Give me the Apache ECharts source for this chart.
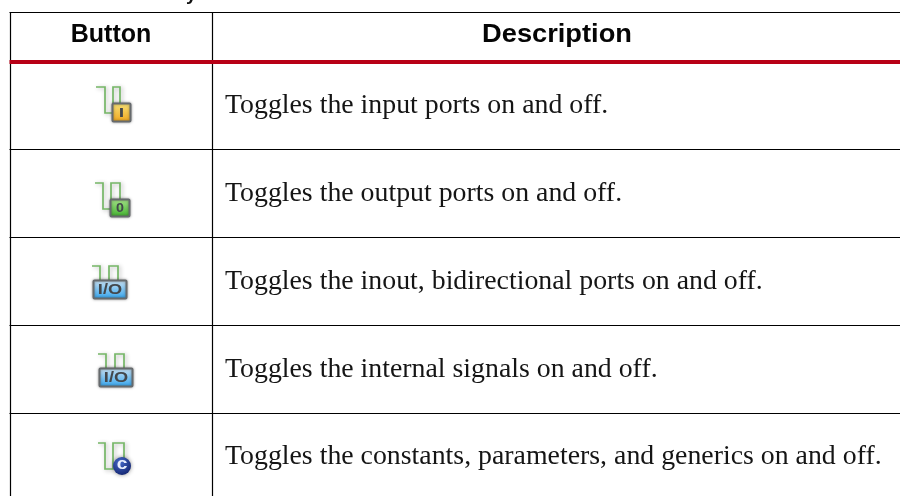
<!DOCTYPE html>
<html>
<head>
<meta charset="utf-8">
<style>
html, body { margin: 0; padding: 0; background: #fff; }
#table-chart { width: 900px; height: 496px; }
</style>
<script src="https://cdn.jsdelivr.net/npm/echarts@6/dist/echarts.min.js"></script>
</head>
<body>
<div id="table-chart"></div>
<script>
var HEADERS = ['Button', 'Description'];
var DESCRIPTIONS = [
    'Toggles the input ports on and off.',
    'Toggles the output ports on and off.',
    'Toggles the inout, bidirectional ports on and off.',
    'Toggles the internal signals on and off.',
    'Toggles the constants, parameters, and generics on and off.'
];
var ICON_LABELS = ['I', '0', 'I/O', 'I/O', 'c'];

var SANS = '"Liberation Sans", Arial, sans-serif';
var SERIF = '"Liberation Serif", "Times New Roman", serif';
var BASELINES = [106, 194, 282, 370, 457];
var ROW_LINES = [149.5, 237.5, 325.5, 413.5];

function line(x1, y1, x2, y2, color, width) {
    return {
        type: 'line',
        shape: {x1: x1, y1: y1, x2: x2, y2: y2},
        style: {stroke: color, lineWidth: width}
    };
}

function label(text, x, y, font, fill, scaleX, align) {
    return {
        type: 'text',
        x: x,
        y: y,
        scaleX: scaleX || 1,
        style: {text: text, font: font, fill: fill, align: align || 'left', verticalAlign: 'middle'}
    };
}

function wave(points) {
    return {
        type: 'polyline',
        shape: {points: points},
        style: {
            stroke: '#76b767',
            fill: null,
            lineWidth: 1.7,
            shadowBlur: 4,
            shadowColor: 'rgba(0,0,0,0.3)',
            shadowOffsetX: 1.5,
            shadowOffsetY: 1
        }
    };
}

function badge(x, y, w, h, top, bottom, text, size, scaleX) {
    return [{
        type: 'rect',
        shape: {x: x, y: y, width: w, height: h, r: 1},
        style: {
            fill: new echarts.graphic.LinearGradient(0, 0, 0, 1, [
                {offset: 0, color: top},
                {offset: 1, color: bottom}
            ]),
            stroke: '#666a6d',
            lineWidth: 2,
            shadowBlur: 3,
            shadowColor: 'rgba(0,0,0,0.35)'
        }
    }, label(text, x + w / 2, y + h / 2 + 0.5, 'bold ' + size + 'px ' + SANS, '#43474b', scaleX, 'center')];
}

function icons() {
    var list = [];
    // input
    list.push(wave([[96, 87], [105, 87], [105, 113], [113, 113], [113, 87], [120, 87], [120, 104]]));
    list = list.concat(badge(112.5, 103.5, 18, 18, '#f7e27a', '#f0a51c', ICON_LABELS[0], 13, 1.5));
    // output
    list.push(wave([[95, 183], [103, 183], [103, 209], [111, 209], [111, 183], [120, 183], [120, 200]]));
    list = list.concat(badge(110.5, 199.5, 19, 17, '#a8e48c', '#3fb02c', ICON_LABELS[1], 13, 1.1));
    // inout
    list.push(wave([[92, 266], [100, 266], [100, 281], [109, 281], [109, 266], [118, 266], [118, 281]]));
    list = list.concat(badge(93.5, 280.5, 33, 18, '#cfe3f2', '#2fa3ee', ICON_LABELS[2], 14, 1.3));
    // internal
    list.push(wave([[98, 354], [106, 354], [106, 369], [115, 369], [115, 354], [124, 354], [124, 369]]));
    list = list.concat(badge(99.5, 368.5, 33, 18, '#cfe3f2', '#2fa3ee', ICON_LABELS[3], 14, 1.3));
    // constants
    list.push(wave([[98, 443], [105, 443], [105, 469], [113, 469], [113, 443], [124, 443], [124, 460]]));
    list.push({
        type: 'circle',
        shape: {cx: 122, cy: 466, r: 9},
        style: {
            fill: new echarts.graphic.RadialGradient(0.4, 0.3, 0.8, [
                {offset: 0, color: '#4468c8'},
                {offset: 1, color: '#10206a'}
            ]),
            shadowBlur: 4,
            shadowColor: 'rgba(0,0,0,0.45)'
        }
    });
    list.push(label(ICON_LABELS[4], 122, 465, 'bold 16px ' + SANS, '#e8eefc', 1.2, 'center'));
    return list;
}

var elements = [];

// table rules
elements.push(line(9.5, 12.5, 900, 12.5, '#000', 1.2));
ROW_LINES.forEach(function (y) {
    elements.push(line(9.5, y, 900, y, '#000', 1.2));
});
elements.push(line(10.5, 12, 10.5, 496, '#000', 1.2));
elements.push(line(212.5, 12, 212.5, 496, '#000', 1.2));
elements.push(line(9.5, 62, 900, 62, '#b80016', 3.8));

// caption is cut off at the top, only this descender shows
elements.push(label('y', 186, -5, 'bold 19px ' + SANS, '#111'));

// header
elements.push(label(HEADERS[0], 111, 35.5, 'bold 25px ' + SANS, '#050505', 1, 'center'));
elements.push(label(HEADERS[1], 557, 35.5, 'bold 25px ' + SANS, '#050505', 1.09, 'center'));

// rows
DESCRIPTIONS.forEach(function (text, i) {
    elements.push(label(text, 225, BASELINES[i], '26.5px ' + SERIF, '#151515', 1.05));
});

elements = elements.concat(icons());

var chart = echarts.init(document.getElementById('table-chart'), null, {renderer: 'canvas'});
chart.setOption({
    backgroundColor: '#fff',
    animation: false,
    graphic: {elements: elements}
});
</script>
</body>
</html>
